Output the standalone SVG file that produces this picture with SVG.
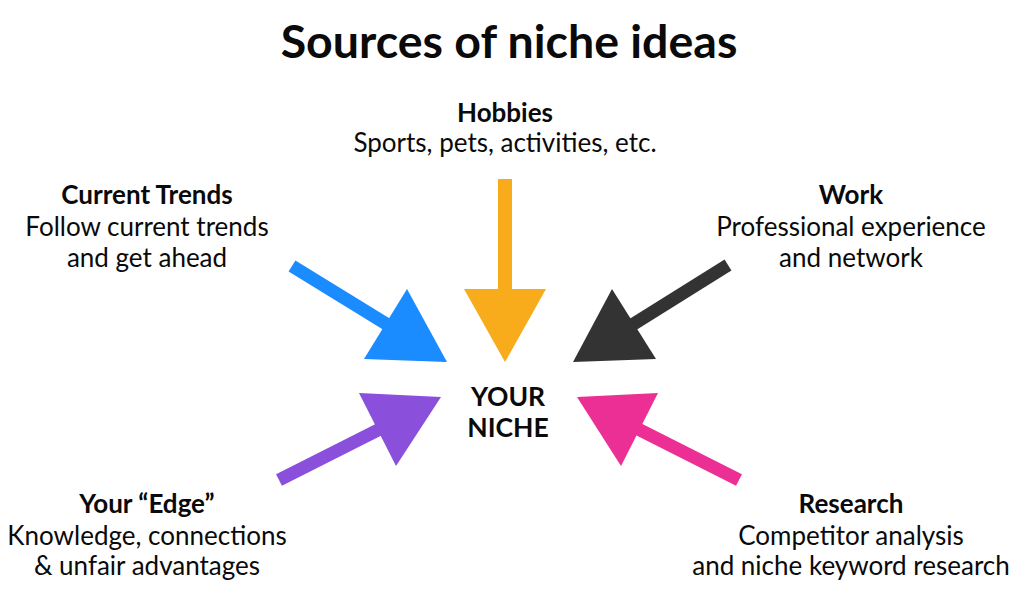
<svg xmlns="http://www.w3.org/2000/svg" width="1024" height="601" viewBox="0 0 1024 601">
<style>
text{font-family:Lato,"Open Sans","Liberation Sans",sans-serif;fill:#0a0a0a;text-anchor:middle}
.title{font-size:46.5px;font-weight:700}
.h{font-size:26px;font-weight:700}
.s{font-size:26px;font-weight:400}
.c{font-size:26.5px;font-weight:700}
.shaft{stroke-width:13;stroke-linecap:butt;fill:none}
</style>
<rect width="1024" height="601" fill="#fff"/>
<text class="title" x="509" y="58">Sources of niche ideas</text>
<g id="connectors">
  <g id="arrow-trends">
    <line class="shaft" x1="292" y1="266" x2="388" y2="325" stroke="#1A8CFF"/>
    <polygon points="447,362 407,289 364,359" fill="#1A8CFF"/>
  </g>
  <g id="arrow-hobbies">
    <rect x="498" y="179" width="14" height="112" fill="#F8AB1B"/>
    <polygon points="464,289 546,289 505,362" fill="#F8AB1B"/>
  </g>
  <g id="arrow-work">
    <line class="shaft" x1="728" y1="265" x2="632" y2="325" stroke="#333333"/>
    <polygon points="573,362 612,289 656,359" fill="#333333"/>
  </g>
  <g id="arrow-edge">
    <line class="shaft" x1="279" y1="480" x2="380" y2="429" stroke="#8A4FDB"/>
    <polygon points="441,397 359,393 396,466" fill="#8A4FDB"/>
  </g>
  <g id="arrow-research">
    <line class="shaft" x1="739" y1="480" x2="638" y2="429" stroke="#EC2F94"/>
    <polygon points="577,397 658,393 621,466" fill="#EC2F94"/>
  </g>
</g>
<g id="node-center">
  <text class="c" x="508" y="406">YOUR</text>
  <text class="c" x="508" y="437">NICHE</text>
</g>
<g id="node-hobbies">
  <text class="h" x="505" y="122">Hobbies</text>
  <text class="s" x="505" y="152">Sports, pets, activities, etc.</text>
</g>
<g id="node-trends">
  <text class="h" x="147" y="204">Current Trends</text>
  <text class="s" x="147" y="236">Follow current trends</text>
  <text class="s" x="147" y="267">and get ahead</text>
</g>
<g id="node-work">
  <text class="h" x="851" y="204">Work</text>
  <text class="s" x="851" y="236">Professional experience</text>
  <text class="s" x="851" y="267">and network</text>
</g>
<g id="node-edge">
  <text class="h" x="147" y="513">Your “Edge”</text>
  <text class="s" x="147" y="545">Knowledge, connections</text>
  <text class="s" x="147" y="575">&amp; unfair advantages</text>
</g>
<g id="node-research">
  <text class="h" x="851" y="513">Research</text>
  <text class="s" x="851" y="545">Competitor analysis</text>
  <text class="s" x="851" y="575">and niche keyword research</text>
</g>
</svg>
